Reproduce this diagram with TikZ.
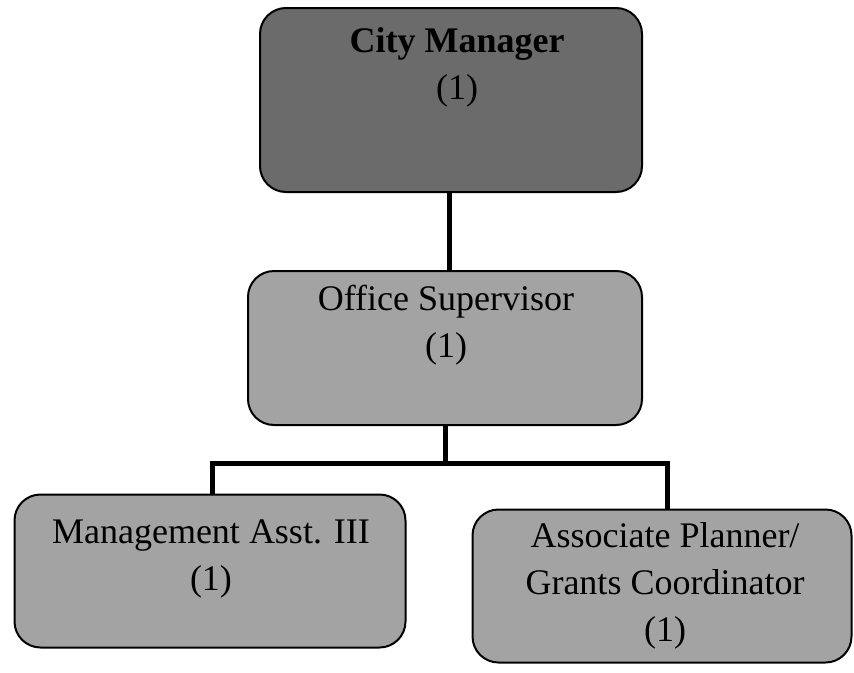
\documentclass[tikz,border=0pt]{standalone}
\usepackage{fontspec}
\setmainfont{Liberation Serif}
\begin{document}
\begin{tikzpicture}[x=1pt,y=-1pt,
  orgbox/.style={draw=black, line width=2pt, rounded corners=26pt, inner sep=0pt},
  darkbox/.style={orgbox, fill=black!58},
  lightbox/.style={orgbox, fill=black!36},
  lbl/.style={font=\fontsize{36}{47}\selectfont, align=center, inner sep=0pt, text=black},
  conn/.style={draw=black, line width=5pt}]
\useasboundingbox (0,0) rectangle (854,672);

% boxes
\node[darkbox, minimum width=382pt, minimum height=184pt] (cm) at (451,100) {};
\node[lightbox, minimum width=394pt, minimum height=154pt] (os) at (445,348) {};
\node[lightbox, minimum width=391pt, minimum height=153pt] (ma) at (210,571) {};
\node[lightbox, minimum width=379pt, minimum height=153pt] (ap) at (662,586) {};

% titles
\node[lbl] (cmt) at (457,67) {\textbf{City Manager}\\(1)};
\node[lbl] (ost) at (446,325) {Office Supervisor\\(1)};
\node[lbl] (mat) at (211,559) {Management Asst. III\\(1)};
\node[lbl] (apt) at (665,586) {Associate Planner/\\Grants Coordinator\\(1)};

% reporting lines
\coordinate (bus) at (445,463);
\draw[conn] (cm.south -| 449,0) -- (os.north -| 449,0);
\draw[conn] (os.south) -- (bus);
\draw[conn] (ma.north -| 212,0) |- (bus) -| (ap.north -| 667,0);
\end{tikzpicture}
\end{document}
